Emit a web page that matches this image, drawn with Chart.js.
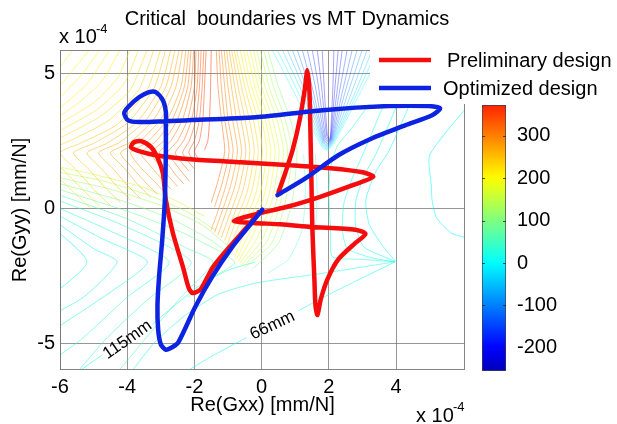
<!DOCTYPE html>
<html>
<head>
<meta charset="utf-8">
<script src="https://cdn.jsdelivr.net/npm/chart.js@4.4.1/dist/chart.umd.min.js"></script>
<style>
    html, body { margin: 0; padding: 0; background: #fff; }
    #wrap { position: relative; width: 617px; height: 424px; overflow: hidden; }
    #main { position: absolute; left: 0; top: 0; }
    #cbar { position: absolute; left: 482px; top: 105px; }
</style>
</head>
<body>
<div id="wrap">
    <canvas id="main" width="617" height="424"></canvas>
    <canvas id="cbar" width="135" height="266"></canvas>
</div>
<script>
const FONT = '"Liberation Sans", Arial, sans-serif';

// Axis ticks (values in units of 1e-4 mm/N)
const xTicks = [-6, -4, -2, 0, 2, 4];
const yTicks = [-5, 0, 5];
const cbarTicks = [-200, -100, 0, 100, 200, 300];
const cbarRange = [-255, 373];

// Preliminary design (red)
const prelimX = [0.50, 0.68, 0.92, 1.13, 1.28, 1.36, 1.42, 1.45, 1.48, 1.51, 1.57, 1.60, 1.66, 1.76, 1.96, 2.28, 2.79, 3.09,
    2.79, 1.50, 0.56, -0.23, -0.83, -0.25, 0.76, 1.74, 2.73, 3.32, 3.00, 2.05, 0.86, -0.62, -2.11, -3.15, -3.65, -3.89,
    -3.80, -3.59, -3.29, -3.09, -2.94, -2.85, -2.64, -2.34, -2.17, -2.05, -1.81, -1.45, -0.86, -0.39, -0.09];
const prelimY = [0.59, 1.22, 2.15, 3.26, 4.37, 5.11, 4.37, 2.89, 1.04, -0.81, -2.67, -3.59, -3.96, -3.37, -2.63, -1.90, -1.29, -0.96,
    -0.80, -0.70, -0.60, -0.55, -0.48, -0.25, 0.05, 0.42, 0.86, 1.16, 1.33, 1.48, 1.59, 1.70, 1.81, 1.96, 2.11, 2.26,
    2.44, 2.48, 2.26, 1.85, 1.30, 0.30, -0.93, -2.19, -2.96, -3.15, -3.00, -2.19, -1.30, -0.63, -0.15];

// Optimized design (blue)
const optimX = [0.47, 1.31, 2.28, 3.29, 4.27, 5.07, 5.31, 4.96, 3.77, 1.81, -0.18, -2.17, -3.65, -3.98, -4.09, -3.98, -3.65,
    -3.35, -3.15, -2.94, -2.85, -2.85, -2.85, -2.88, -2.96, -3.05, -3.10, -3.08, -3.00, -2.85, -2.65, -2.48, -1.97,
    -1.47, -0.87, -0.40, 0.02];
const optimY = [0.48, 1.11, 1.96, 2.59, 3.07, 3.44, 3.70, 3.78, 3.78, 3.63, 3.37, 3.26, 3.19, 3.26, 3.52, 3.74, 4.11,
    4.30, 4.30, 4.00, 3.56, 3.07, 2.15, 0.30, -1.20, -2.50, -3.60, -4.50, -5.05, -5.25, -5.15, -4.98, -3.65,
    -2.54, -1.43, -0.70, -0.06];

// Contour lines of the critical boundary map: one level per line, vertices as [x, y]
const upperLevels = [190, 195, 200, 205, 211, 218, 225, 232, 240, 248, 255, 262, 268, 275, 282, 290, 298, 305,
    312, 320, 328, 335, 342, 350, 365];
const upperLines = [
    [[-5.6, 5.9], [-5.9, 5.4], [-6.2, 4.9]],
    [[-5.1, 5.9], [-5.5, 5.3], [-6.2, 4.2]],
    [[-4.8, 5.9], [-5.35, 4.95], [-6.2, 3.85]],
    [[-4.5, 5.9], [-5.2, 4.6], [-6.2, 3.5]],
    [[-4.2, 5.9], [-4.75, 4.7], [-5.5, 3.85], [-6.2, 3.25]],
    [[-3.9, 5.9], [-4.3, 4.8], [-5.0, 3.9], [-6.2, 3.0]],
    [[-3.65, 5.9], [-4.1, 4.6], [-4.9, 3.65], [-6.1, 2.8], [-6.8, 2.3]],
    [[-3.4, 5.9], [-3.9, 4.4], [-4.8, 3.4], [-6.0, 2.6], [-6.8, 2.05], [-6.2, 1.3], [-5.6, 0.6], [-5.1, 0.0]],
    [[-3.2, 5.9], [-3.65, 4.4], [-4.55, 3.25], [-5.7, 2.5], [-6.4, 2.05], [-5.85, 1.35], [-5.3, 0.65], [-4.8, 0.05]],
    [[-3.0, 5.9], [-3.4, 4.4], [-4.3, 3.1], [-5.4, 2.4], [-6.0, 2.05], [-5.5, 1.4], [-5.0, 0.7], [-4.5, 0.1]],
    [[-2.85, 5.9], [-3.2, 4.45], [-4.0, 3.15], [-5.0, 2.4], [-5.6, 2.05], [-5.15, 1.45], [-4.65, 0.75], [-4.2, 0.2]],
    [[-2.7, 5.9], [-3.0, 4.5], [-3.7, 3.2], [-4.6, 2.4], [-5.2, 2.05], [-4.8, 1.5], [-4.3, 0.8], [-3.9, 0.3]],
    [[-2.57, 5.9], [-2.85, 4.5], [-3.45, 3.25], [-4.25, 2.42], [-4.85, 2.05], [-4.45, 1.5], [-4.0, 0.85], [-3.6, 0.35]],
    [[-2.45, 5.9], [-2.7, 4.5], [-3.2, 3.3], [-3.9, 2.45], [-4.5, 2.05], [-4.1, 1.5], [-3.7, 0.9], [-3.3, 0.4]],
    [[-2.35, 5.9], [-2.55, 4.5], [-3.0, 3.3], [-3.65, 2.45], [-4.2, 2.05], [-3.85, 1.5], [-3.45, 0.95], [-3.1, 0.5]],
    [[-2.25, 5.9], [-2.4, 4.5], [-2.8, 3.3], [-3.4, 2.45], [-3.9, 2.05], [-3.6, 1.5], [-3.2, 1.0], [-2.9, 0.6]],
    [[-2.17, 5.9], [-2.3, 4.5], [-2.65, 3.3], [-3.15, 2.47], [-3.6, 2.05], [-3.3, 1.55], [-2.95, 1.05], [-2.7, 0.7]],
    [[-2.1, 5.9], [-2.2, 4.5], [-2.5, 3.3], [-2.9, 2.5], [-3.3, 2.05], [-3.05, 1.6], [-2.75, 1.15], [-2.5, 0.8]],
    [[-2.02, 5.9], [-2.1, 4.5], [-2.35, 3.3], [-2.7, 2.5], [-3.05, 2.05], [-2.8, 1.65], [-2.55, 1.22], [-2.32, 0.9]],
    [[-1.95, 5.9], [-2.0, 4.5], [-2.2, 3.3], [-2.5, 2.5], [-2.8, 2.05], [-2.6, 1.7], [-2.35, 1.3], [-2.15, 1.0]],
    [[-1.87, 5.9], [-1.92, 4.5], [-2.08, 3.3], [-2.32, 2.5], [-2.57, 2.05], [-2.4, 1.72], [-2.17, 1.38]],
    [[-1.8, 5.9], [-1.85, 4.5], [-1.95, 3.3], [-2.15, 2.5], [-2.35, 2.05], [-2.2, 1.75], [-2.0, 1.45]],
    [[-1.72, 5.9], [-1.77, 4.5], [-1.85, 3.3], [-2.0, 2.5], [-2.17, 2.07], [-2.05, 1.8]],
    [[-1.65, 5.9], [-1.7, 4.5], [-1.75, 3.3], [-1.85, 2.5], [-2.0, 2.1], [-1.9, 1.85]],
    [[-1.5, 5.9], [-1.52, 4.5], [-1.55, 3.3], [-1.6, 2.5], [-1.7, 2.15]]
];

const midLevels = [320, 310, 300, 290, 280, 268, 255, 242, 230, 218, 205, 195, 185, 172, 160, 145, 130, 105];
const midLines = [
    [[-1.35, 5.9], [-1.3, 4.5], [-1.2, 3.3], [-1.1, 2.1], [-1.3, 1.0], [-1.5, 0.2]],
    [[-1.27, 5.9], [-1.2, 4.5], [-1.1, 3.3], [-0.97, 2.1], [-1.17, 0.95], [-1.4, 0.05]],
    [[-1.2, 5.9], [-1.1, 4.5], [-1.0, 3.3], [-0.85, 2.1], [-1.05, 0.9], [-1.3, -0.1], [-1.5, -0.8]],
    [[-1.12, 5.9], [-1.0, 4.5], [-0.87, 3.3], [-0.72, 2.1], [-0.92, 0.85], [-1.2, -0.2], [-1.4, -0.9]],
    [[-1.05, 5.9], [-0.9, 4.5], [-0.75, 3.3], [-0.6, 2.1], [-0.8, 0.8], [-1.1, -0.3], [-1.3, -1.0]],
    [[-0.97, 5.9], [-0.8, 4.5], [-0.62, 3.3], [-0.47, 2.1], [-0.67, 0.75], [-1.0, -0.4], [-1.2, -1.1]],
    [[-0.9, 5.9], [-0.7, 4.5], [-0.5, 3.3], [-0.35, 2.1], [-0.55, 0.7], [-0.9, -0.5], [-1.1, -1.2]],
    [[-0.82, 5.9], [-0.6, 4.5], [-0.37, 3.3], [-0.22, 2.1], [-0.42, 0.65], [-0.8, -0.6], [-1.02, -1.35]],
    [[-0.75, 5.9], [-0.5, 4.5], [-0.25, 3.3], [-0.1, 2.1], [-0.3, 0.6], [-0.7, -0.7], [-0.95, -1.5]],
    [[-0.65, 5.9], [-0.4, 4.5], [-0.12, 3.3], [0.02, 2.1], [-0.17, 0.55], [-0.6, -0.8], [-0.87, -1.65]],
    [[-0.55, 5.9], [-0.3, 4.5], [0.0, 3.3], [0.15, 2.1], [-0.05, 0.5], [-0.5, -0.9], [-0.8, -1.8]],
    [[-0.45, 5.9], [-0.2, 4.5], [0.1, 3.3], [0.27, 2.1], [0.07, 0.45], [-0.4, -1.0], [-0.75, -1.9]],
    [[-0.35, 5.9], [-0.1, 4.5], [0.2, 3.3], [0.4, 2.1], [0.2, 0.4], [-0.3, -1.1], [-0.7, -2.0]],
    [[-0.25, 5.9], [0.0, 4.5], [0.32, 3.3], [0.52, 2.1], [0.32, 0.35], [-0.15, -1.15], [-0.65, -2.05]],
    [[-0.15, 5.9], [0.1, 4.5], [0.45, 3.3], [0.65, 2.1], [0.45, 0.3], [0.0, -1.2], [-0.6, -2.1]],
    [[-0.05, 5.9], [0.22, 4.5], [0.57, 3.3], [0.77, 2.1], [0.57, 0.25], [0.15, -1.25], [-0.55, -2.15]],
    [[0.05, 5.9], [0.35, 4.5], [0.7, 3.3], [0.9, 2.1], [0.7, 0.2], [0.3, -1.3], [-0.5, -2.2]],
    [[0.17, 5.9], [0.5, 4.5], [0.85, 3.3], [1.05, 2.1], [0.9, 0.2], [0.5, -1.3], [-0.3, -2.3]]
];

const fanLevels = [10, -15, -40, -65, -90, -115, -140, -160, -180, -200, -215, 40, 30];
const fanLines = [
    [[0.3, 5.9], [1.0, 4.2], [1.8, 2.25], [1.95, 2.15], [2.15, 2.4], [2.9, 4.2], [3.6, 5.9]],
    [[0.45, 5.9], [1.1, 4.25], [1.81, 2.3], [1.955, 2.18], [2.135, 2.42], [2.82, 4.2], [3.45, 5.9]],
    [[0.6, 5.9], [1.2, 4.3], [1.82, 2.35], [1.96, 2.22], [2.12, 2.45], [2.75, 4.2], [3.3, 5.9]],
    [[0.75, 5.9], [1.28, 4.35], [1.83, 2.4], [1.965, 2.26], [2.11, 2.47], [2.65, 4.2], [3.15, 5.9]],
    [[0.9, 5.9], [1.35, 4.4], [1.84, 2.45], [1.97, 2.3], [2.1, 2.5], [2.55, 4.2], [3.0, 5.9]],
    [[1.05, 5.9], [1.43, 4.45], [1.85, 2.5], [1.975, 2.34], [2.09, 2.52], [2.47, 4.25], [2.85, 5.9]],
    [[1.2, 5.9], [1.5, 4.5], [1.86, 2.55], [1.98, 2.38], [2.08, 2.55], [2.4, 4.3], [2.7, 5.9]],
    [[1.35, 5.9], [1.59, 4.55], [1.88, 2.6], [1.99, 2.42], [2.07, 2.57], [2.32, 4.35], [2.55, 5.9]],
    [[1.5, 5.9], [1.68, 4.6], [1.9, 2.65], [2.0, 2.46], [2.06, 2.6], [2.25, 4.4], [2.4, 5.9]],
    [[1.65, 5.9], [1.77, 4.65], [1.93, 2.7], [2.01, 2.5], [2.055, 2.65], [2.18, 4.45], [2.28, 5.9]],
    [[1.8, 5.9], [1.85, 4.7], [1.95, 2.75], [2.02, 2.55], [2.05, 2.7], [2.12, 4.5], [2.15, 5.9]],
    [[1.25, 2.0], [1.3, 0.5], [1.2, -0.8], [0.8, -1.9], [0.2, -2.4]],
    [[1.6, 2.0], [1.65, 0.5], [1.6, -0.8], [1.5, -1.8]]
];

const rightLevels = [30, 20, 15, 10, 0];
const rightLines = [
    [[3.2, 3.85], [2.7, 3.0], [2.25, 2.3], [2.05, 1.5], [2.0, 0.5], [2.05, -0.8], [2.1, -1.8], [3.0, -1.9], [3.97, -1.99]],
    [[3.6, 3.74], [3.0, 1.96], [2.7, 1.12], [2.45, 0.2], [2.4, -0.8], [2.55, -1.5], [3.3, -1.85], [3.97, -1.99]],
    [[4.0, 3.74], [3.4, 2.0], [3.05, 1.2], [2.8, 0.25], [2.8, -0.7], [3.05, -1.45], [3.97, -1.97]],
    [[4.37, 3.74], [3.77, 2.08], [3.39, 1.34], [3.1, 0.3], [3.2, -0.6], [3.6, -1.4], [3.97, -1.95]],
    [[6.1, 3.74], [5.0, 1.97], [5.05, 0.8], [5.07, 0.3], [5.2, -0.35], [5.66, -0.94], [6.1, -1.1]]
];

const lowerLevels = [25, 15, 15, 20, 20, 10, 17, 25, 35, 45, 60, 80, 100, 120, 140, 160];
const lowerLines = [
    [[3.97, -1.99], [1.9, -2.4], [-0.19, -2.78], [-1.3, -3.2], [-2.3, -4.0], [-3.2, -5.0], [-3.9, -6.1]],
    [[3.97, -1.99], [2.0, -3.2], [1.1, -3.8]],
    [[-0.45, -4.8], [-1.5, -5.5], [-2.3, -6.1]],
    [[-6.3, -6.8], [-4.75, -5.45]],
    [[-3.25, -4.3], [-1.88, -2.9], [-1.0, -2.3], [-0.2, -2.0]],
    [[-6.3, -0.6], [-5.2, -2.0], [-6.3, -3.3]],
    [[-6.3, -0.35], [-5.0, -1.5], [-4.3, -2.0], [-5.3, -3.3], [-6.3, -4.0]],
    [[-6.3, -0.1], [-4.8, -1.1], [-3.4, -2.0], [-4.6, -3.2], [-6.3, -4.6]],
    [[-6.3, 0.15], [-4.5, -0.85], [-2.75, -2.0], [-4.0, -3.3], [-5.4, -4.9], [-6.3, -5.7]],
    [[-6.3, 0.4], [-4.2, -0.6], [-2.1, -2.0], [-3.4, -3.4], [-4.6, -4.8], [-5.5, -6.1]],
    [[-6.3, 0.6], [-4.0, -0.4], [-2.2, -1.5], [-1.45, -2.0], [-2.4, -3.3], [-3.3, -4.6], [-4.3, -6.1]],
    [[-6.3, 0.8], [-3.8, -0.2], [-2.2, -1.0], [-0.8, -2.0], [-1.5, -2.6], [-2.2, -3.3]],
    [[-6.3, 1.0], [-4.1, 0.25], [-2.6, -0.45], [-1.5, -1.2], [-0.95, -1.7]],
    [[-6.3, 1.2], [-4.5, 0.7], [-3.0, 0.1], [-1.8, -0.6], [-1.0, -1.4]],
    [[-6.3, 1.4], [-4.7, 1.0], [-3.3, 0.45], [-2.2, -0.15], [-1.35, -0.85]],
    [[-6.3, 1.6], [-5.0, 1.25], [-3.6, 0.8], [-2.6, 0.3], [-1.7, -0.3]]
];

// Inline contour labels: text, x, y, angle (deg)
const contourLabels = [
    ['115mm', -3.99, -4.88, -35],
    ['66mm', 0.32, -4.35, -25]
];

// MATLAB-style jet colormap
function jet(v, alpha) {
    const t = 0.375 + v * 0.00125;
    const c = k => Math.round(255 * Math.max(0, Math.min(1, 1.5 - Math.abs(4 * t - k))));
    return 'rgba(' + c(3) + ',' + c(2) + ',' + c(1) + ',' + alpha + ')';
}

function contourSets(levels, lines, alpha) {
    return lines.map((pts, i) => ({
        data: pts.map(p => ({ x: p[0], y: p[1] })),
        borderColor: jet(levels[i], alpha),
        borderWidth: 0.9,
        pointRadius: 0,
        showLine: true,
        tension: 0.2,
        order: 5
    }));
}

function curve(xs, ys, color, order) {
    return {
        data: xs.map((x, i) => ({ x: x, y: ys[i] })),
        borderColor: color,
        borderWidth: 4.5,
        pointRadius: 0,
        showLine: true,
        tension: 0.25,
        borderCapStyle: 'round',
        borderJoinStyle: 'round',
        order: order
    };
}

const RED = 'rgb(245,12,12)';
const BLUE = 'rgb(12,35,225)';

// Frame, legend, title and exponent labels
const decor = {
    id: 'decor',
    afterDatasetsDraw(chart) {
        const { ctx, chartArea: a, scales } = chart;
        ctx.save();

        // contour labels
        ctx.fillStyle = '#000';
        ctx.font = '17px ' + FONT;
        ctx.textAlign = 'center';
        ctx.textBaseline = 'middle';
        contourLabels.forEach(l => {
            ctx.save();
            ctx.translate(scales.x.getPixelForValue(l[1]), scales.y.getPixelForValue(l[2]));
            ctx.rotate(l[3] * Math.PI / 180);
            ctx.fillText(l[0], 0, 0);
            ctx.restore();
        });

        // axes box
        ctx.strokeStyle = 'rgba(120,120,120,0.9)';
        ctx.lineWidth = 1;
        ctx.strokeRect(a.left + 0.5, a.top + 0.5, a.right - a.left - 1, a.bottom - a.top - 1);

        // legend
        ctx.fillStyle = '#fff';
        ctx.fillRect(370, 44, 247, 60);
        ctx.lineWidth = 4.5;
        ctx.strokeStyle = RED;
        ctx.beginPath(); ctx.moveTo(379, 60); ctx.lineTo(431, 60); ctx.stroke();
        ctx.strokeStyle = BLUE;
        ctx.beginPath(); ctx.moveTo(379, 88); ctx.lineTo(431, 88); ctx.stroke();
        ctx.fillStyle = '#000';
        ctx.font = '20px ' + FONT;
        ctx.textAlign = 'left';
        ctx.fillText('Preliminary design', 447, 61);
        ctx.fillText('Optimized design', 443, 89);

        // title
        ctx.textAlign = 'center';
        ctx.fillText('Critical  boundaries vs MT Dynamics', 287, 19);

        // exponent labels
        ctx.textAlign = 'left';
        ctx.textBaseline = 'alphabetic';
        ctx.fillText('x 10', 59, 43);
        ctx.fillText('x 10', 416, 422);
        ctx.font = '13px ' + FONT;
        ctx.fillText('-4', 96, 33);
        ctx.fillText('-4', 453, 411);
        ctx.restore();
    }
};

const datasets = [
    curve(optimX, optimY, BLUE, 0),
    curve(prelimX, prelimY, RED, 1)
].concat(
    contourSets(upperLevels, upperLines, 0.55),
    contourSets(midLevels, midLines, 0.55),
    contourSets(fanLevels, fanLines, 0.4),
    contourSets(rightLevels, rightLines, 0.6),
    contourSets(lowerLevels, lowerLines, 0.6)
);

const gridColor = 'rgba(115,115,115,0.75)';

new Chart(document.getElementById('main'), {
    type: 'scatter',
    data: { datasets: datasets },
    options: {
        responsive: false,
        animation: false,
        events: [],
        layout: { padding: { left: 0, right: 152, top: 50, bottom: 0 } },
        plugins: { legend: { display: false }, tooltip: { enabled: false } },
        scales: {
            x: {
                type: 'linear',
                min: -6,
                max: 6.05,
                afterBuildTicks: s => { s.ticks = xTicks.map(v => ({ value: v })); },
                afterFit: s => { s.height = 54; s.paddingLeft = 0; s.paddingRight = 0; },
                grid: { color: gridColor, drawTicks: false },
                border: { display: false },
                ticks: { color: '#000', font: { family: FONT, size: 20 }, padding: 5, maxRotation: 0 },
                title: {
                    display: true, text: 'Re(Gxx) [mm/N]', color: '#000',
                    font: { family: FONT, size: 20 }, padding: { top: 0, bottom: 7 }
                }
            },
            y: {
                type: 'linear',
                min: -6,
                max: 5.86,
                afterBuildTicks: s => { s.ticks = yTicks.map(v => ({ value: v })); },
                afterFit: s => { s.width = 60; s.paddingTop = 0; s.paddingBottom = 0; },
                grid: { color: gridColor, drawTicks: false },
                border: { display: false },
                ticks: { color: '#000', font: { family: FONT, size: 20 }, padding: 5 },
                title: {
                    display: true, text: 'Re(Gyy) [mm/N]', color: '#000',
                    font: { family: FONT, size: 20 }, padding: { top: 8, bottom: 0 }
                }
            }
        }
    },
    plugins: [decor]
});

// Colorbar
function jetGradient(context) {
    const chart = context.chart;
    const a = chart.chartArea;
    if (!a) return 'transparent';
    const g = chart.ctx.createLinearGradient(0, a.bottom, 0, a.top);
    const span = cbarRange[1] - cbarRange[0];
    for (let v = cbarRange[0]; v <= cbarRange[1]; v += 20) {
        g.addColorStop((v - cbarRange[0]) / span, jet(v, 1));
    }
    g.addColorStop(1, jet(cbarRange[1], 1));
    return g;
}

const cbarTickMarks = {
    id: 'cbarTickMarks',
    afterDatasetsDraw(chart) {
        const { ctx, chartArea: a, scales } = chart;
        ctx.save();
        ctx.strokeStyle = 'rgba(40,40,40,0.8)';
        ctx.lineWidth = 1;
        cbarTicks.forEach(v => {
            const y = Math.round(scales.y.getPixelForValue(v)) + 0.5;
            ctx.beginPath();
            ctx.moveTo(a.left, y); ctx.lineTo(a.left + 3, y);
            ctx.moveTo(a.right - 3, y); ctx.lineTo(a.right, y);
            ctx.stroke();
        });
        ctx.restore();
    }
};

new Chart(document.getElementById('cbar'), {
    type: 'bar',
    data: {
        labels: ['c'],
        datasets: [{
            data: [cbarRange],
            backgroundColor: jetGradient,
            borderColor: 'rgba(40,40,60,0.9)',
            borderWidth: 1,
            borderSkipped: false,
            barPercentage: 1,
            categoryPercentage: 1
        }]
    },
    options: {
        responsive: false,
        animation: false,
        events: [],
        layout: { padding: 0 },
        plugins: { legend: { display: false }, tooltip: { enabled: false } },
        scales: {
            x: { display: false },
            y: {
                position: 'right',
                min: cbarRange[0],
                max: cbarRange[1],
                afterBuildTicks: s => { s.ticks = cbarTicks.map(v => ({ value: v })); },
                afterFit: s => { s.width = 111; s.paddingTop = 0; s.paddingBottom = 0; },
                grid: { display: false },
                border: { display: false },
                ticks: { color: '#000', font: { family: FONT, size: 20 }, padding: 3 }
            }
        }
    },
    plugins: [cbarTickMarks]
});
</script>
</body>
</html>
